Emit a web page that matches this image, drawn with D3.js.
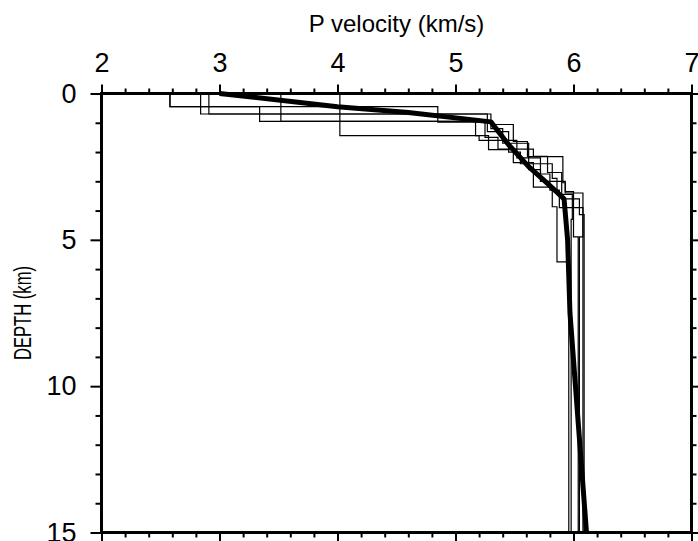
<!DOCTYPE html>
<html>
<head>
<meta charset="utf-8">
<script src="https://cdn.jsdelivr.net/npm/d3@7"></script>
<style>
  body { margin: 0; background: #fff; }
  svg { display: block; font-family: "Liberation Sans", Arial, sans-serif; }
</style>
</head>
<body>
<svg id="chart" width="698" height="541"></svg>
<script>
// velocity models: each layer = [velocity (km/s), bottom depth (km)]
const model1 = [[2.58, 0.45], [3.34, 0.95], [5.17, 1.44], [5.28, 1.92], [5.49, 2.36], [5.66, 3.2], [5.82, 3.87], [5.86, 5.75], [5.96, 15]];
const model2 = [[2.58, 0.45], [4.85, 0.98], [5.30, 1.06], [5.49, 1.64], [5.61, 2.16], [5.91, 3.05], [5.93, 3.4], [6.08, 15]];
const model3 = [[2.84, 0.70], [5.30, 1.2], [5.40, 1.7], [5.62, 2.6], [5.72, 3.0], [5.93, 3.35], [6.00, 4.9], [6.04, 15]];
const model4 = [[2.91, 0.70], [5.27, 1.3], [5.45, 2.0], [5.55, 2.4], [5.82, 2.9], [5.86, 3.45], [5.99, 4.3], [5.98, 15]];
const model5 = [[3.52, 0.95], [5.25, 1.5], [5.36, 1.9], [5.66, 2.15], [5.78, 2.7], [5.90, 3.6], [6.05, 4.14], [6.09, 15]];
const model6 = [[4.02, 1.44], [5.20, 1.6], [5.52, 2.2], [5.72, 2.75], [5.80, 3.3], [5.88, 3.9], [6.08, 4.9], [6.05, 15]];
const models = [model1, model2, model3, model4, model5, model6];

// final (thick) model
const finalVel = [3.0, 4.0, 4.6, 5.3, 5.45, 5.62, 5.8, 5.92, 5.95, 5.97, 6.11];
const finalDepth = [0, 0.45, 0.65, 0.97, 1.75, 2.5, 3.15, 3.6, 5.0, 7.5, 15];

const xMajor = [2, 3, 4, 5, 6, 7];
const yMajor = [0, 5, 10, 15];

const svg = d3.select("#chart");
const x = d3.scaleLinear().domain([2, 7]).range([101.5, 691.5]);
const y = d3.scaleLinear().domain([0, 15]).range([93.5, 532.5]);

const xMinor = d3.range(2, 7.001, 0.2).filter(v => Math.abs(v - Math.round(v)) > 1e-6);
const yMinor = d3.range(0, 15.001, 1).filter(v => v % 5 !== 0);

// 細い線: 各モデルの階段
const step = (layers) => {
  let p = d3.path();
  let top = 0;
  layers.forEach((l, i) => {
    if (i === 0) p.moveTo(x(l[0]), y(top));
    else p.lineTo(x(l[0]), y(top));
    p.lineTo(x(l[0]), y(l[1]));
    top = l[1];
  });
  return p.toString();
};

svg.append("g")
  .selectAll("path")
  .data(models)
  .enter()
  .append("path")
  .attr("d", step)
  .attr("fill", "none")
  .attr("stroke", "#000")
  .attr("stroke-width", 1.2);

// 太線
const finalLine = d3.line().x(d => x(d[0])).y(d => y(d[1]));
svg.append("path")
  .datum(finalVel.map((v, i) => [v, finalDepth[i]]))
  .attr("d", finalLine)
  .attr("fill", "none")
  .attr("stroke", "#000")
  .attr("stroke-width", 5)
  .attr("stroke-linejoin", "round");

// axes
function addAxis(gen, tx, ty, ticks, size, labels) {
  const g = svg.append("g")
    .attr("transform", `translate(${tx},${ty})`)
    .call(gen.tickValues(ticks).tickSize(size).tickSizeOuter(0)
      .tickFormat(labels ? d3.format("d") : ""));
  g.select(".domain").remove();
  g.selectAll(".tick line").attr("stroke", "#000").attr("stroke-width", 2);
  g.selectAll("text").attr("fill", "#000").style("font-size", "27px");
  return g;
}

addAxis(d3.axisTop(x).tickPadding(13), 0, y(0), xMajor, 9, true);
addAxis(d3.axisTop(x), 0, y(0), xMinor, 5, false);
addAxis(d3.axisBottom(x), 0, y(15), xMajor, 9, false);
addAxis(d3.axisBottom(x), 0, y(15), xMinor, 5, false);
addAxis(d3.axisLeft(y).tickPadding(14), x(2), 0, yMajor, 11, true);
addAxis(d3.axisLeft(y), x(2), 0, yMinor, 6, false);
addAxis(d3.axisRight(y), x(7), 0, yMajor, 9, false);
addAxis(d3.axisRight(y), x(7), 0, yMinor, 5, false);

// frame
svg.append("rect")
  .attr("x", x(2)).attr("y", y(0))
  .attr("width", x(7) - x(2)).attr("height", y(15) - y(0))
  .attr("fill", "none")
  .attr("stroke", "#000")
  .attr("stroke-width", 3);

// titles
svg.append("text")
  .attr("x", (x(2) + x(7)) / 2).attr("y", 32)
  .attr("text-anchor", "middle")
  .style("font-size", "24px")
  .text("P velocity (km/s)");

svg.append("text")
  .attr("transform", `translate(31,${(y(0) + y(15)) / 2}) rotate(-90)`)
  .attr("text-anchor", "middle")
  .attr("textLength", 94)
  .attr("lengthAdjust", "spacingAndGlyphs")
  .style("font-size", "23px")
  .text("DEPTH (km)");
</script>
</body>
</html>
